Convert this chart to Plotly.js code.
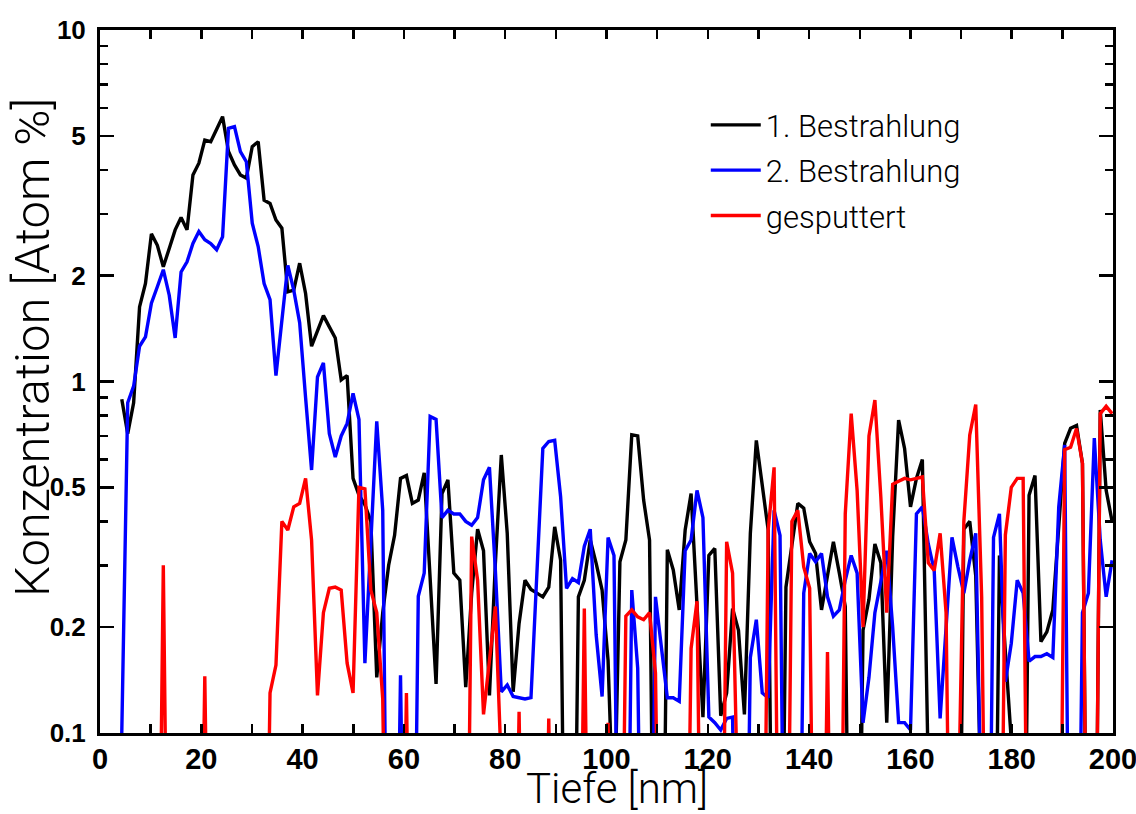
<!DOCTYPE html>
<html>
<head>
<meta charset="utf-8">
<script src="https://cdn.plot.ly/plotly-3.0.1.min.js"></script>
<style>
  html, body { margin: 0; padding: 0; background: #ffffff; }
  #chart { width: 1136px; height: 814px; }
</style>
</head>
<body>
<div id="chart"></div>
<script>
// Depth grid (nm)
const depth = [
  4.30, 5.47, 6.64, 7.81, 8.98, 10.15, 11.32, 12.50, 13.67, 14.84,
  16.01, 17.18, 18.35, 19.52, 20.69, 21.86, 23.03, 24.20, 25.37, 26.55,
  27.72, 28.89, 30.06, 31.23, 32.40, 33.57, 34.74, 35.91, 37.08, 38.25,
  39.42, 40.59, 41.77, 42.94, 44.11, 45.28, 46.45, 47.62, 48.79, 49.96,
  51.13, 52.30, 53.47, 54.64, 55.82, 56.99, 58.16, 59.33, 60.50, 61.67,
  62.84, 64.01, 65.18, 66.35, 67.52, 68.69, 69.86, 71.04, 72.21, 73.38,
  74.55, 75.72, 76.89, 78.06, 79.23, 80.40, 81.57, 82.74, 83.91, 85.09,
  86.26, 87.43, 88.60, 89.77, 90.94, 92.11, 93.28, 94.45, 95.62, 96.79,
  97.96, 99.13, 100.31, 101.48, 102.65, 103.82, 104.99, 106.16, 107.33, 108.50,
  109.67, 110.84, 112.01, 113.18, 114.36, 115.53, 116.70, 117.87, 119.04, 120.21,
  121.38, 122.55, 123.72, 124.89, 126.06, 127.23, 128.40, 129.58, 130.75, 131.92,
  133.09, 134.26, 135.43, 136.60, 137.77, 138.94, 140.11, 141.28, 142.45, 143.63,
  144.80, 145.97, 147.14, 148.31, 149.48, 150.65, 151.82, 152.99, 154.16, 155.33,
  156.50, 157.67, 158.85, 160.02, 161.19, 162.36, 163.53, 164.70, 165.87, 167.04,
  168.21, 169.38, 170.55, 171.72, 172.90, 174.07, 175.24, 176.41, 177.58, 178.75,
  179.92, 181.09, 182.26, 183.43, 184.60, 185.77, 186.94, 188.12, 189.29, 190.46,
  191.63, 192.80, 193.97, 195.14, 196.31, 197.48, 198.65, 199.82
];

// Konzentration [Atom %] - 1. Bestrahlung
const bestrahlung1 = [
  0.89, 0.71, 0.87, 1.63, 1.90, 2.63, 2.44, 2.12, 2.39, 2.70,
  2.93, 2.70, 3.87, 4.18, 4.86, 4.81, 5.22, 5.67, 4.51, 4.13,
  3.87, 3.79, 4.66, 4.81, 3.28, 3.21, 2.88, 2.73, 1.80, 1.82,
  2.17, 1.78, 1.26, 1.40, 1.54, 1.43, 1.33, 1.01, 1.04, 0.53,
  0.475, 0.446, 0.40, 0.144, 0.22, 0.30, 0.365, 0.53, 0.54, 0.45,
  0.46, 0.55, 0.27, 0.138, 0.48, 0.525, 0.285, 0.272, 0.135, 0.25,
  0.38, 0.33, 0.128, 0.304, 0.618, 0.37, 0.131, 0.205, 0.272, 0.256,
  0.25, 0.244, 0.26, 0.386, 0.31, 0.01, 0.01, 0.244, 0.272, 0.354,
  0.304, 0.255, 0.161, 0.05, 0.307, 0.354, 0.705, 0.70, 0.46, 0.354,
  0.01, 0.01, 0.332, 0.291, 0.224, 0.378, 0.48, 0.23, 0.111, 0.32,
  0.335, 0.112, 0.13, 0.226, 0.196, 0.113, 0.37, 0.68, 0.50, 0.378,
  0.01, 0.01, 0.26, 0.345, 0.45, 0.436, 0.35, 0.324, 0.224, 0.28,
  0.35, 0.285, 0.229, 0.01, 0.01, 0.196, 0.24, 0.345, 0.305, 0.107,
  0.362, 0.777, 0.645, 0.44, 0.53, 0.60, 0.10, 0.01, 0.01, 0.01,
  0.01, 0.01, 0.38, 0.40, 0.28, 0.05, 0.01, 0.01, 0.32, 0.17,
  0.095, 0.01, 0.01, 0.475, 0.54, 0.182, 0.194, 0.224, 0.38, 0.667,
  0.736, 0.75, 0.585, 0.01, 0.01, 0.83, 0.49, 0.40
];

// Konzentration [Atom %] - 2. Bestrahlung
const bestrahlung2 = [
  0.10, 0.87, 0.97, 1.26, 1.34, 1.67, 1.86, 2.08, 1.76, 1.33,
  2.05, 2.19, 2.47, 2.67, 2.53, 2.47, 2.37, 2.58, 5.25, 5.31,
  4.51, 4.22, 2.82, 2.42, 1.90, 1.71, 1.04, 1.52, 2.14, 1.82,
  1.47, 0.90, 0.56, 1.03, 1.13, 0.71, 0.61, 0.70, 0.76, 0.925,
  0.78, 0.158, 0.35, 0.77, 0.43, 0.01, 0.01, 0.146, 0.01, 0.01,
  0.245, 0.285, 0.795, 0.78, 0.41, 0.43, 0.42, 0.42, 0.40, 0.39,
  0.41, 0.525, 0.57, 0.29, 0.131, 0.137, 0.127, 0.126, 0.125, 0.126,
  0.30, 0.645, 0.675, 0.68, 0.47, 0.258, 0.275, 0.268, 0.34, 0.38,
  0.19, 0.127, 0.36, 0.32, 0.01, 0.01, 0.255, 0.153, 0.01, 0.01,
  0.244, 0.176, 0.126, 0.126, 0.123, 0.33, 0.354, 0.49, 0.41, 0.111,
  0.107, 0.102, 0.11, 0.111, 0.01, 0.01, 0.164, 0.21, 0.13, 0.126,
  0.43, 0.365, 0.01, 0.01, 0.01, 0.25, 0.324, 0.307, 0.324, 0.244,
  0.215, 0.224, 0.272, 0.32, 0.285, 0.107, 0.144, 0.22, 0.272, 0.33,
  0.20, 0.107, 0.107, 0.102, 0.42, 0.44, 0.345, 0.29, 0.11, 0.196,
  0.36, 0.297, 0.25, 0.31, 0.37, 0.05, 0.01, 0.36, 0.42, 0.14,
  0.18, 0.272, 0.25, 0.16, 0.165, 0.165, 0.168, 0.164, 0.44, 0.66,
  0.01, 0.01, 0.22, 0.25, 0.69, 0.354, 0.244, 0.31
];

// Konzentration [Atom %] - gesputtert
const gesputtert = [
  0.01, 0.01, 0.01, 0.01, 0.01, 0.01, 0.01, 0.30, 0.01, 0.01,
  0.01, 0.01, 0.01, 0.01, 0.145, 0.01, 0.01, 0.01, 0.01, 0.01,
  0.01, 0.01, 0.01, 0.01, 0.01, 0.13, 0.156, 0.40, 0.378, 0.44,
  0.45, 0.53, 0.354, 0.128, 0.22, 0.258, 0.26, 0.255, 0.158, 0.13,
  0.50, 0.495, 0.255, 0.22, 0.125, 0.01, 0.01, 0.01, 0.13, 0.01,
  0.01, 0.01, 0.01, 0.01, 0.01, 0.01, 0.01, 0.01, 0.01, 0.362,
  0.272, 0.113, 0.16, 0.229, 0.08, 0.01, 0.01, 0.115, 0.01, 0.01,
  0.01, 0.01, 0.11, 0.01, 0.01, 0.01, 0.01, 0.01, 0.226, 0.01,
  0.01, 0.01, 0.107, 0.01, 0.01, 0.215, 0.224, 0.214, 0.21, 0.22,
  0.148, 0.01, 0.01, 0.01, 0.01, 0.01, 0.174, 0.237, 0.01, 0.01,
  0.01, 0.01, 0.35, 0.285, 0.05, 0.01, 0.01, 0.01, 0.01, 0.378,
  0.57, 0.01, 0.01, 0.40, 0.43, 0.297, 0.258, 0.01, 0.01, 0.17,
  0.01, 0.01, 0.42, 0.81, 0.49, 0.20, 0.70, 0.886, 0.47, 0.22,
  0.51, 0.52, 0.53, 0.525, 0.53, 0.535, 0.305, 0.29, 0.37, 0.22,
  0.01, 0.05, 0.40, 0.705, 0.86, 0.244, 0.01, 0.01, 0.01, 0.366,
  0.50, 0.53, 0.53, 0.01, 0.01, 0.01, 0.01, 0.01, 0.01, 0.64,
  0.65, 0.735, 0.585, 0.01, 0.01, 0.81, 0.85, 0.81
];

const seriesNames = ['1. Bestrahlung', '2. Bestrahlung', 'gesputtert'];
const seriesColors = ['#000000', '#0000ff', '#ff0000'];

const xTickVals = [0, 10, 20, 30, 40, 50, 60, 70, 80, 90, 100, 110, 120, 130, 140, 150, 160, 170, 180, 190, 200];
const xTickText = ['0', '', '20', '', '40', '', '60', '', '80', '', '100', '', '120', '', '140', '', '160', '', '180', '', '200'];
const yTickVals = [0.1, 0.2, 0.5, 1, 2, 5, 10];
const yTickText = ['0.1', '0.2', '0.5', '1', '2', '5', '10'];
const yMinorVals = [0.3, 0.4, 0.6, 0.7, 0.8, 0.9, 3, 4, 6, 7, 8, 9];

const xTitle = 'Tiefe [nm]';
const yTitle = 'Konzentration [Atom %]';

const ys = [bestrahlung1, bestrahlung2, gesputtert];
const traces = ys.map((y, k) => ({
  type: 'scatter',
  mode: 'lines',
  x: depth,
  y: y,
  name: seriesNames[k],
  legendgroup: 'g' + k,
  line: { color: seriesColors[k], width: 3.4 },
  hoverinfo: 'skip'
}));

const tickFamily = "'Liberation Sans', Arial, sans-serif";
const thinFont = "Roboto, 'Liberation Sans', sans-serif";

const layout = {
  width: 1136,
  height: 814,
  margin: { l: 100, r: 23, t: 30, b: 81 },
  paper_bgcolor: '#ffffff',
  plot_bgcolor: '#ffffff',
  showlegend: true,
  legend: {
    x: 0.598, y: 0.903, xanchor: 'left', yanchor: 'top',
    bgcolor: 'rgba(0,0,0,0)', borderwidth: 0,
    font: { family: thinFont, weight: 300, size: 31, color: '#000' },
    tracegroupgap: 2,
    traceorder: 'grouped',
    itemwidth: 50
  },
  xaxis: {
    range: [0, 200],
    tickmode: 'array',
    tickvals: xTickVals,
    ticktext: xTickText,
    ticks: 'inside',
    ticklen: 9,
    tickwidth: 2.5,
    tickcolor: '#000',
    showline: true,
    linewidth: 3,
    linecolor: '#000',
    mirror: 'allticks',
    showgrid: false,
    zeroline: false,
    tickfont: { family: tickFamily, weight: 'bold', size: 29, color: '#000' },
    ticklabelstandoff: -2,
    ticklabeloverflow: 'allow'
  },
  yaxis: {
    type: 'log',
    range: [-1, 1],
    tickmode: 'array',
    tickvals: yTickVals,
    ticktext: yTickText,
    ticks: 'inside',
    ticklen: 14,
    tickwidth: 2.5,
    tickcolor: '#000',
    minor: { tickmode: 'array', tickvals: yMinorVals, ticks: 'inside', ticklen: 8, tickwidth: 2.5, tickcolor: '#000', showgrid: false },
    showline: true,
    linewidth: 3,
    linecolor: '#000',
    mirror: 'allticks',
    showgrid: false,
    zeroline: false,
    tickfont: { family: tickFamily, weight: 'bold', size: 26, color: '#000' },
    ticklabelstandoff: 6
  },
  annotations: [
    {
      text: xTitle, xref: 'paper', yref: 'paper', x: 0.51, y: -0.1152,
      xanchor: 'center', yanchor: 'bottom', borderpad: 0, showarrow: false,
      font: { family: thinFont, weight: 300, size: 42, color: '#000' }
    },
    {
      text: yTitle, xref: 'paper', yref: 'paper', x: -0.066, y: 0.548,
      xanchor: 'center', yanchor: 'middle', showarrow: false, textangle: -90,
      font: { family: thinFont, weight: 300, size: 49, color: '#000' }
    }
  ]
};

Plotly.newPlot('chart', traces, layout, { displayModeBar: false, staticPlot: true });
</script>
</body>
</html>
